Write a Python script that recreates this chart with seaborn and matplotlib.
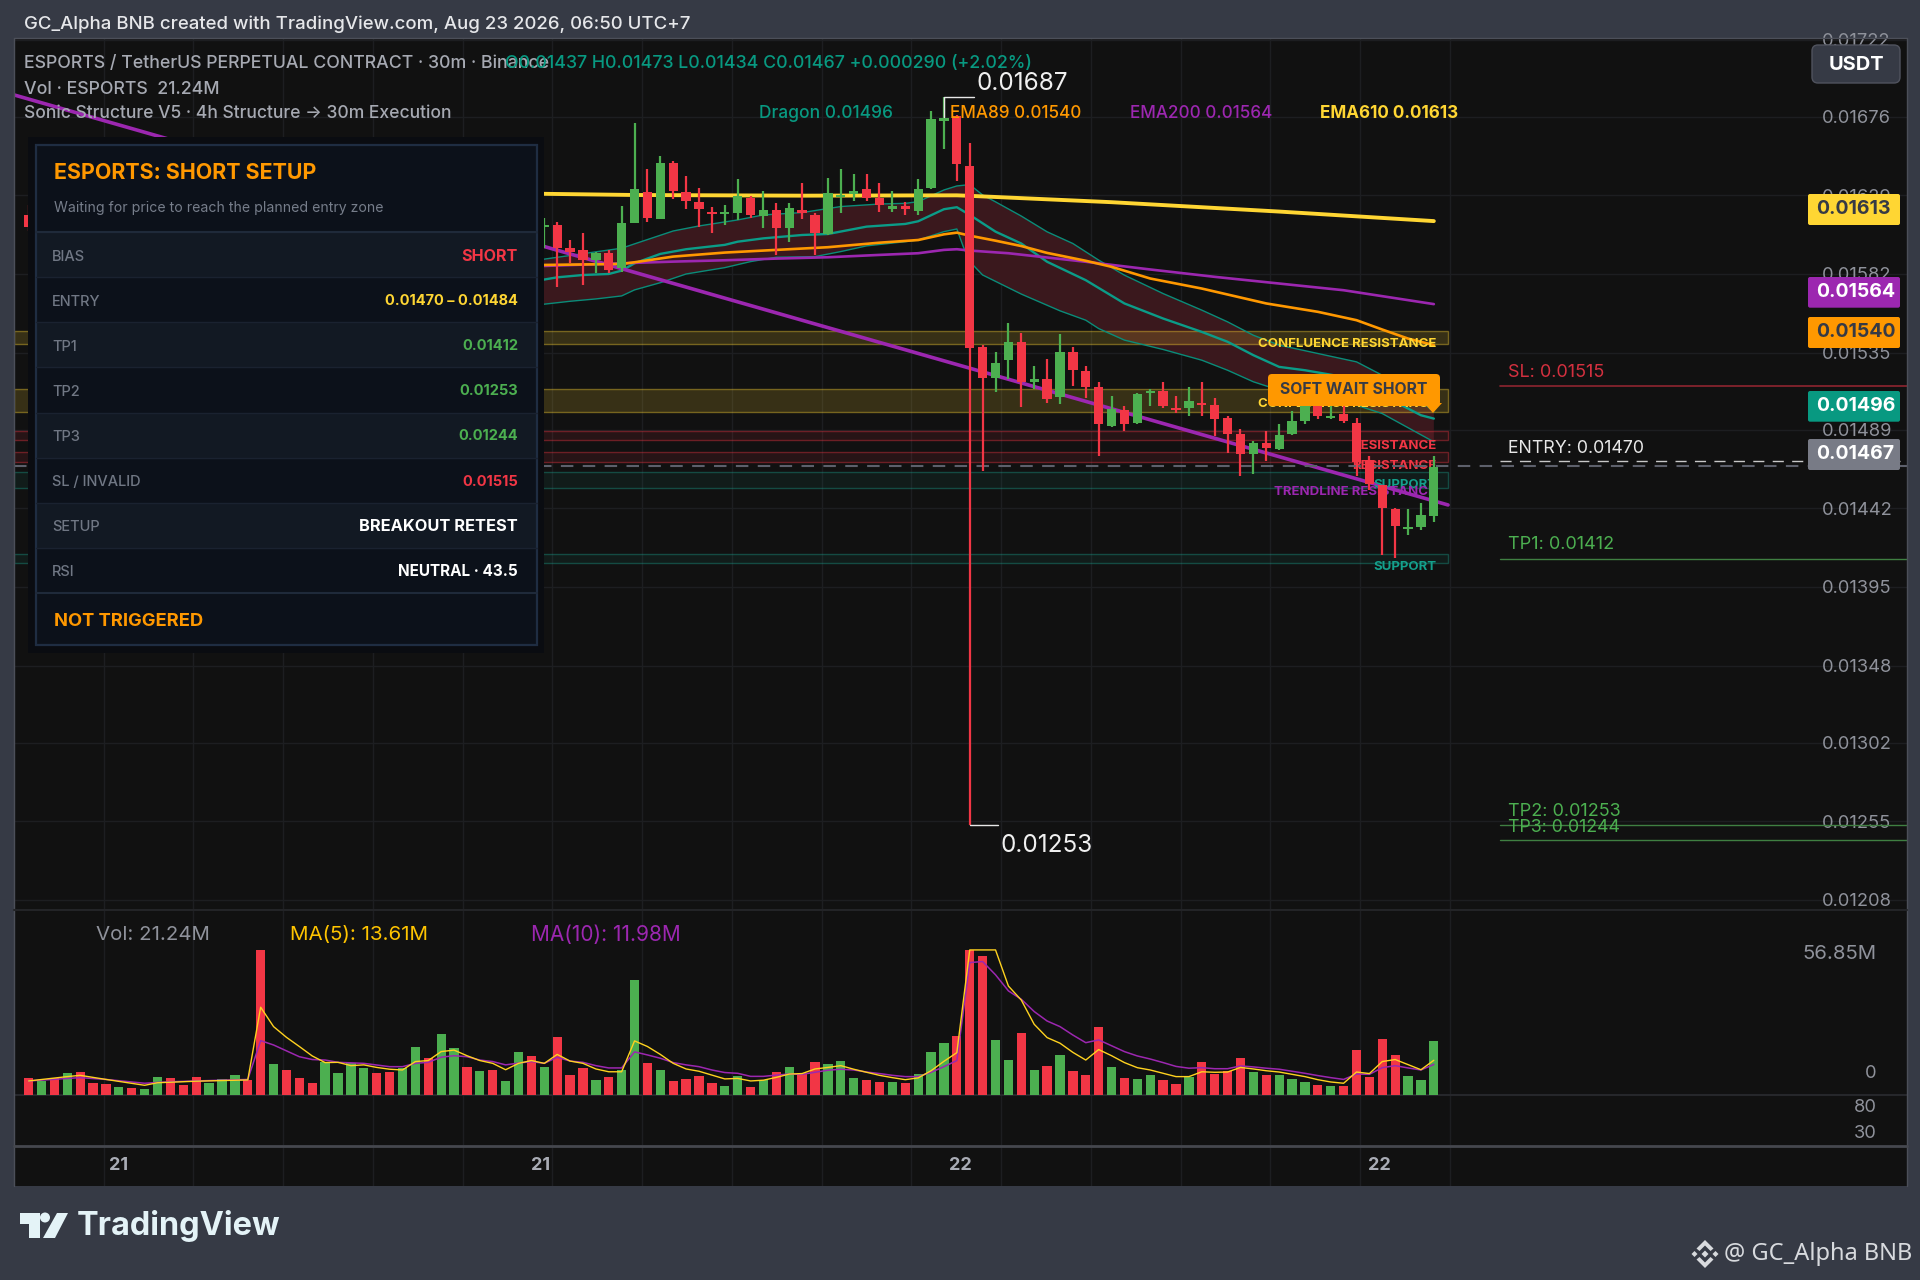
import numpy as np
import pandas as pd
import seaborn as sns
import matplotlib.pyplot as plt
from matplotlib.colors import to_rgba
from matplotlib.patches import Rectangle, FancyBboxPatch, Polygon, Circle

# ---- price data, in millionths of USDT (0.01467 -> 14670) ----
candle_idx = [0] + list(range(40, 110))
opens = [16173,
    16099, 16113, 15974, 15964, 15904, 15944, 15854, 16127, 16312, 16147,
    16485, 16312, 16252, 16193, 16179, 16187, 16276, 16167, 16203, 16097,
    16203, 16173, 16057, 16278, 16296, 16326, 16276, 16207, 16227, 16197,
    16332, 16736, 16764, 16466, 15381, 15201, 15305, 15411, 15176, 15190,
    15086, 15351, 15241, 15142, 14911, 15010, 14927, 15106, 15122, 15022,
    15022, 15050, 15040, 14962, 14863, 14743, 14811, 14773, 14863, 14942,
    15046, 14958, 14982, 14931, 14711, 14558, 14413, 14295, 14309, 14373]
highs = [16232,
    16153, 16133, 16023, 16063, 15954, 15964, 16227, 16725, 16446, 16525,
    16495, 16406, 16332, 16223, 16233, 16386, 16286, 16316, 16242, 16242,
    16362, 16183, 16392, 16446, 16416, 16416, 16362, 16316, 16252, 16386,
    16796, 16880, 16770, 16601, 15395, 15351, 15530, 15470, 15271, 15311,
    15460, 15381, 15271, 15172, 15090, 15030, 15110, 15132, 15172, 15090,
    15142, 15172, 15080, 14970, 14891, 14823, 14881, 14923, 15002, 15086,
    15066, 15046, 15046, 14962, 14731, 14562, 14419, 14413, 14452, 14731]
lows = [16077,
    15974, 15744, 15884, 15754, 15824, 15824, 15834, 16127, 16133, 16147,
    16266, 16207, 16103, 16067, 16113, 16143, 16153, 16093, 15934, 16013,
    16147, 15934, 16053, 16187, 16256, 16256, 16193, 16193, 16173, 16173,
    16326, 16565, 16376, 12530, 14644, 15116, 15191, 15026, 15132, 15052,
    15042, 15152, 15082, 14733, 14903, 14883, 14923, 15032, 15022, 14990,
    14972, 14972, 14853, 14753, 14614, 14624, 14701, 14771, 14861, 14923,
    14952, 14954, 14931, 14612, 14528, 14140, 14122, 14259, 14289, 14339]
closes = [16101,
    16113, 15974, 15954, 15904, 15944, 15844, 16123, 16326, 16153, 16485,
    16316, 16256, 16207, 16179, 16193, 16286, 16173, 16203, 16097, 16213,
    16183, 16063, 16302, 16292, 16316, 16276, 16233, 16227, 16207, 16326,
    16744, 16750, 16476, 15376, 15201, 15291, 15411, 15176, 15190, 15072,
    15351, 15245, 15142, 14923, 15012, 14923, 15102, 15122, 15030, 15006,
    15060, 15036, 14952, 14863, 14743, 14811, 14783, 14861, 14942, 15046,
    14972, 14970, 14942, 14697, 14564, 14423, 14313, 14309, 14379, 14668]

# EMA lines: (candle index, price)
ema610_x = [39, 47, 60, 72, 73, 84, 97, 109]
ema610_y = [16300, 16292, 16288, 16290, 16287, 16249, 16193, 16136]
ema89_x = [40, 46, 47, 50, 54, 58, 62, 66, 69, 71, 72, 73, 75, 77, 79, 82, 84, 87, 91, 96, 100, 103, 105, 107, 109]
ema89_y = [15874, 15880, 15890, 15924, 15948, 15964, 15980, 16007, 16023, 16057, 16067, 16049, 16019, 15987,
           15946, 15899, 15863, 15793, 15733, 15644, 15594, 15544, 15488, 15434, 15395]
ema200_x = [40, 46, 50, 54, 58, 62, 66, 69, 71, 72, 73, 76, 78, 82, 87, 92, 97, 102, 109]
ema200_y = [15868, 15884, 15894, 15902, 15912, 15920, 15934, 15944, 15964, 15968, 15960, 15944, 15927,
            15893, 15847, 15803, 15763, 15723, 15640]

# Dragon band
upper_x = [39, 46, 47, 50, 52, 55, 57, 60, 63, 66, 68, 69, 71, 72, 73, 74, 75, 77, 79, 81, 83, 85, 88, 91, 93, 95, 97, 100, 103, 105, 107, 109]
upper_y = [15898, 15974, 16000, 16077, 16107, 16143, 16173, 16187, 16223, 16238, 16242, 16252, 16322, 16346, 16354,
           16292, 16251, 16166, 16072, 16002, 15903, 15813, 15703, 15604, 15534, 15454, 15395, 15345, 15295, 15215, 15126, 14996]
mid_x = [39, 41, 43, 45, 46, 47, 49, 51, 54, 55, 57, 60, 62, 65, 68, 69, 71, 72, 73, 75, 77, 79, 82, 85, 88, 91, 93, 95, 97, 99, 102, 105, 108, 109]
mid_y = [15774, 15800, 15814, 15820, 15840, 15884, 15940, 15968, 15994, 16013, 16033, 16053, 16059, 16103, 16119, 16135,
         16207, 16219, 16173, 16073, 16002, 15893, 15783, 15644, 15554, 15474, 15415, 15335, 15265, 15245, 15205, 15096, 14976, 14956]
lower_x = [39, 42, 44, 46, 47, 49, 51, 54, 56, 58, 61, 63, 65, 68, 69, 71, 72, 72.5, 73, 74, 77, 80, 82, 83, 85, 88, 91, 93, 95, 97, 100, 103, 105, 109]
lower_y = [15631, 15657, 15671, 15689, 15725, 15768, 15820, 15858, 15894, 15920, 15924, 15954, 15988, 16013, 16023, 16073,
           16089, 15983, 15894, 15814, 15700, 15600, 15544, 15494, 15425, 15369, 15305, 15245, 15176, 15126, 15076, 15036, 14986, 14817]

trend_x = [-1.13, 110.1]
trend_y = [16890, 14440]

# zones: low, high
conf_zones = [(15400, 15480), (14997, 15131)]
res_zones = [(14828, 14880), (14699, 14758)]
sup_zones = [(14539, 14639), (14094, 14146)]
zone_x = [-1.13, 110.1]

# ---- volume data, millions ----
volumes = [6.8, 5.5, 6.5, 8.8, 8.9, 4.7, 4.4, 3.3, 2.9, 2.4,
           6.9, 6.5, 3.9, 7.2, 4.8, 6.1, 7.7, 5.9, 56.85, 12.2,
           9.8, 6.5, 4.7, 12.8, 8.6, 12.4, 10.5, 8.5, 8.9, 10.5,
           18.8, 14.4, 23.8, 18.4, 11.0, 9.4, 9.9, 5.5, 16.7, 15.2,
           11.0, 22.7, 7.7, 10.5, 5.9, 6.9, 9.7, 45.1, 12.4, 9.7,
           5.4, 6.3, 7.3, 4.8, 3.4, 7.3, 3.1, 5.9, 8.9, 10.8,
           8.2, 12.8, 12.2, 13.3, 6.7, 5.9, 5.1, 5.2, 4.6, 8.2,
           16.7, 20.3, 23.3, 56.85, 54.6, 21.4, 13.9, 24.2, 9.8, 11.4,
           15.6, 9.5, 7.8, 26.5, 11.1, 6.7, 6.4, 7.8, 6.0, 4.4,
           6.9, 12.8, 8.4, 9.5, 14.6, 8.9, 8.0, 7.7, 6.3, 5.0,
           3.9, 3.4, 3.7, 17.6, 7.1, 22.0, 15.7, 7.3, 6.0, 21.24]
vol_dirs = list("RGRGRRRGRG" "GRRRGGGRRG" "RRRGGGGRRG" "GRGGRGRGGR" "GRRRGRGGRG"
                "RRRRGGRGRG" "RRGGGRRGRG" "GGRRRGGRGR" "GRRRGRGGRR" "GRRRRGRGGG" "RGRRRRRGGG")

ma5_x = [0, 3, 4, 6, 9, 10, 13] + list(range(17, 110))
ma5_y = [5.5, 7.2, 7.7, 6.1, 3.8, 4.8, 5.4, 5.9, 34.4, 26.8, 22.6, 19.0, 15.3, 12.7, 12.8, 11.5, 11.8, 10.8, 10.1, 9.8,
         13.1, 13.5, 17.0, 17.6, 15.4, 13.5, 12.4, 9.9, 12.4, 13.5, 12.4, 15.9, 13.3, 12.4, 10.2, 9.1, 9.1, 21.2, 19.0,
         15.9, 12.4, 10.2, 9.3, 7.8, 6.3, 6.5, 5.5, 5.8, 6.9, 8.2, 8.4, 10.2, 10.8, 11.5, 10.1, 8.9, 7.7, 6.8, 6.0, 6.7,
         9.5, 13.2, 16.6, 56.85, 56.85, 56.85, 42.7, 37.2, 27.7, 22.5, 20.3, 16.7, 13.7, 17.8, 15.4, 12.7, 10.7, 9.8, 8.5,
         7.2, 7.2, 9.1, 8.9, 9.0, 10.8, 10.2, 9.5, 9.0, 8.1, 7.2, 6.0, 5.1, 4.6, 9.0, 8.4, 13.1, 13.9, 11.9, 9.9, 13.61]
ma10_x = [0, 4, 6, 9, 11, 17, 18, 19, 21, 22, 23, 24, 26] + list(range(28, 110))
ma10_y = [5.5, 6.8, 6.1, 4.6, 5.2, 6.1, 21.3, 19.6, 15.0, 13.9, 13.7, 12.8, 12.4,
          11.1, 11.1, 12.4, 12.8, 14.8, 15.4, 15.0, 13.7, 13.1, 11.8, 12.5, 13.1, 12.4, 14.8, 13.3, 12.8, 11.5, 10.6, 10.6,
          16.9, 15.7, 14.4, 12.7, 11.8, 11.1, 9.8, 8.8, 8.5, 7.3, 7.3, 7.8, 8.2, 8.1, 8.9, 9.7, 10.1, 9.8, 9.0, 8.4, 7.7,
          7.2, 7.2, 8.9, 11.1, 13.5, 51.9, 52.3, 47.1, 40.8, 37.5, 32.7, 29.0, 26.8, 23.5, 20.5, 21.6, 19.3, 17.0, 15.3,
          14.1, 12.7, 11.2, 10.5, 10.7, 10.3, 10.3, 11.4, 11.0, 10.5, 10.1, 9.3, 8.5, 7.6, 6.8, 6.1, 8.2, 8.1, 10.7, 11.5,
          10.6, 9.8, 11.98]

# ---- axes labels and ticks ----
price_ticks = [0.01722, 0.01676, 0.01629, 0.01582, 0.01535, 0.01489, 0.01442, 0.01395, 0.01348, 0.01302, 0.01255, 0.01208]
grid_idx = [5.83 + 6.96 * k for k in range(16)]
day_ticks = [7.0, 39.7, 72.3, 104.8]
day_labels = ['21', '21', '22', '22']

panel_rows = ['BIAS', 'ENTRY', 'TP1', 'TP2', 'TP3', 'SL / INVALID', 'SETUP', 'RSI']
panel_values = ['SHORT', '0.01470 – 0.01484', '0.01412', '0.01253', '0.01244', '0.01515', 'BREAKOUT RETEST', 'NEUTRAL · 43.5']
panel_sizes = [11.6, 10.5, 10.5, 10.5, 10.5, 10.5, 11.8, 11.0]

RED = '#f23645'
GREEN = '#4caf50'
YELLOW = '#ffd633'
ORANGE = '#ff9800'
PURPLE = '#9c27b0'
TEAL = '#089981'
BG = '#111111'
FRAME = '#363a45'
GRIDC = '#1d1e21'
TICK = '#8f929b'
panel_colors = [RED, YELLOW, GREEN, GREEN, GREEN, RED, 'white', 'white']

sns.set_theme(style='dark', rc={'axes.facecolor': BG, 'figure.facecolor': FRAME})
plt.rcParams['font.family'] = ['Inter', 'DejaVu Sans']

W, H = 1920, 1280
fig = plt.figure(figsize=(W / 100, H / 100), dpi=100)


def pane(top, bottom):
    return fig.add_axes([14 / W, 1 - bottom / H, (1907 - 14) / W, (bottom - top) / H])


ax = pane(38, 910)
ax_vol = pane(910, 1145)
ax_time = pane(1145, 1186)
XLIM = (-1.133, 145.7)

to_price = lambda v: np.array(v) / 1e6

# Dragon band fill
ax.fill(upper_x + lower_x[::-1], to_price(upper_y + lower_y[::-1]), color='#3a181d', lw=0, zorder=1)

# zones
for zones, c, alpha in [(conf_zones, YELLOW, 0.16), (res_zones, RED, 0.10), (sup_zones, '#1aa38f', 0.08)]:
    for lo, hi in zones:
        ax.add_patch(Rectangle((zone_x[0], lo / 1e6), zone_x[1] - zone_x[0], (hi - lo) / 1e6,
                               fc=to_rgba(c, alpha), ec=to_rgba(c, 0.38), lw=1.0, zorder=2))

# trend and EMA lines
line_specs = [(upper_x, upper_y, '#0a8c79', 1.0), (mid_x, mid_y, '#0b9c88', 1.7), (lower_x, lower_y, '#0a8c79', 1.0),
              (trend_x, trend_y, PURPLE, 2.6), (ema200_x, ema200_y, PURPLE, 1.9),
              (ema89_x, ema89_y, ORANGE, 1.9), (ema610_x, ema610_y, YELLOW, 2.8)]
for xs, ys, c, lw in line_specs:
    sns.lineplot(x=xs, y=to_price(ys), color=c, linewidth=lw, estimator=None, errorbar=None,
                 legend=False, ax=ax, zorder=3)

# zone labels sit under the candles
zone_labels = [('CONFLUENCE RESISTANCE', 0.015402, YELLOW), ('CONFLUENCE RESISTANCE', 0.015044, YELLOW),
               ('RESISTANCE', 0.014794, RED), ('RESISTANCE', 0.014675, RED), ('SUPPORT', 0.014560, '#14a08c'),
               ('TRENDLINE RESISTANCE', 0.014519, PURPLE), ('SUPPORT', 0.014068, '#14a08c')]
for s, p, c in zone_labels:
    ax.text(109.2, p, s, color=c, fontsize=9.5, fontweight='bold', ha='right', va='center', zorder=4)

# candles
df = pd.DataFrame({'i': candle_idx, 'o': to_price(opens), 'h': to_price(highs), 'l': to_price(lows), 'c': to_price(closes)})
df['col'] = np.where(df['c'] >= df['o'], GREEN, RED)
ax.vlines(df['i'], df['l'], df['h'], colors=df['col'], lw=1.6, zorder=5)
ax.bar(df['i'], (df['c'] - df['o']).abs(), bottom=df[['o', 'c']].min(axis=1), width=0.72, color=df['col'], lw=0, zorder=6)

# current price and plan lines
ax.plot(XLIM, [0.01467, 0.01467], color='#5d606b', lw=1.5, dashes=(6, 4.5), zorder=4)
plan_x = [114.15, XLIM[1]]
ax.plot(plan_x, [0.01515] * 2, color='#8f2530', lw=1.2, zorder=4)
ax.plot(plan_x, [0.01470] * 2, color='#c8c8c8', lw=1.0, dashes=(8, 6), zorder=4)
for p in [0.01412, 0.01253, 0.01244]:
    ax.plot(plan_x, [p] * 2, color='#3f7f42', lw=1.0, zorder=4)

# high / low brackets
ax.plot([71, 71, 73.3], [0.01676, 0.01688, 0.01688], color='#e8e8e8', lw=1.0, zorder=7)
ax.plot([73, 75.2], [0.01253, 0.01253], color='#e8e8e8', lw=1.0, zorder=7)

ax.set_yticks(price_ticks, [f'{p:.5f}' for p in price_ticks])
ax.yaxis.tick_right()
ax.tick_params(axis='y', direction='in', length=0, pad=-61, labelsize=13.2, labelcolor=TICK)
ax.set_xticks(grid_idx, [''] * len(grid_idx))
ax.tick_params(axis='x', length=0)
ax.grid(True, color=GRIDC, lw=1.0)
ax.set_axisbelow(True)
ax.set(xlim=XLIM, ylim=(0.01202, 0.01723), xlabel='', ylabel='')

# volume pane
vol_df = pd.DataFrame({'i': np.arange(len(volumes)), 'v': volumes, 'd': vol_dirs})
sns.barplot(data=vol_df, x='i', y='v', hue='d', palette={'R': RED, 'G': GREEN}, native_scale=True, dodge=False,
            width=0.72, saturation=1, errorbar=None, legend=False, linewidth=0, edgecolor='none', ax=ax_vol, zorder=3)
sns.lineplot(x=ma10_x, y=ma10_y, color=PURPLE, linewidth=1.1, estimator=None, errorbar=None, legend=False, ax=ax_vol, zorder=4)
sns.lineplot(x=ma5_x, y=ma5_y, color='#ffd21f', linewidth=1.0, estimator=None, errorbar=None, legend=False, ax=ax_vol, zorder=5)
ax_vol.axhline(0, color='#26272b', lw=1.5, zorder=1)
ax_vol.set_xticks(grid_idx, [''] * len(grid_idx))
ax_vol.set_yticks([])
ax_vol.tick_params(axis='x', length=0)
ax_vol.grid(True, axis='x', color=GRIDC, lw=1.0)
ax_vol.set_axisbelow(True)
ax_vol.set(xlim=XLIM, ylim=(-19.6, 72.5), xlabel='', ylabel='')

# time strip
ax_time.vlines(grid_idx, 0, 1, color=GRIDC, lw=1.0)
ax_time.set_xticks(day_ticks, day_labels)
ax_time.set_yticks([])
ax_time.tick_params(axis='x', length=0, pad=-21, labelsize=13, labelcolor='#a9acb5')
for t in ax_time.get_xticklabels():
    t.set_fontweight('bold')
ax_time.set(xlim=XLIM, ylim=(0, 1))

for a in (ax, ax_vol, ax_time):
    for s in a.spines.values():
        s.set_visible(False)

# ---- overlay in pixel coordinates for panel, tags and captions ----
ov = fig.add_axes([0, 0, 1, 1], zorder=10)
ov.set_xlim(0, W)
ov.set_ylim(H, 0)
ov.axis('off')


def put(x, y, s, color, size, weight='normal', ha='left', va='center', **kw):
    return ov.text(x, y + 2, s, color=color, fontsize=size, fontweight=weight, ha=ha, va=va, **kw)


def box(x0, y0, x1, y1, fc, ec='none', lw=0):
    ov.add_patch(Rectangle((x0, y0), x1 - x0, y1 - y0, fc=fc, ec=ec, lw=lw))


# frame and dividers
ov.plot([14, 14, 1906.5, 1906.5], [1185.5, 38, 38, 1185.5], color='#4c4f59', lw=1.0)
ov.plot([14, 1907], [910, 910], color='#232427', lw=1.5)
ov.plot([14, 1907], [1145.5, 1145.5], color='#45474e', lw=2)

# header
put(24, 22.5, 'GC_Alpha BNB created with TradingView.com, Aug 23 2026, 06:50 UTC+7', '#e6e7ea', 13.4, 'medium')
put(24, 62, 'ESPORTS / TetherUS PERPETUAL CONTRACT · 30m · Binance', '#a6a9b2', 12.8, 'medium')
put(505, 62, 'O0.01437 H0.01473 L0.01434 C0.01467 +0.000290 (+2.02%)', TEAL, 12.8, 'medium')
put(24, 87, 'Vol · ESPORTS  21.24M', '#a6a9b2', 12.8, 'medium')
put(24, 112, 'Sonic Structure V5 · 4h Structure → 30m Execution', '#a6a9b2', 12.6, 'medium')
put(759, 112, 'Dragon 0.01496', TEAL, 12.5, 'medium')
put(950, 112, 'EMA89 0.01540', ORANGE, 12.3, 'medium')
put(1130, 112, 'EMA200 0.01564', PURPLE, 12.3, 'medium')
put(1320, 112, 'EMA610 0.01613', YELLOW, 12.3, 'bold')
put(976, 81, '0.01687', '#f0f0f0', 17.5)
put(1001, 844, '0.01253', '#f0f0f0', 17.5)

# status panel
box(28, 137, 544, 653, '#0a0c11')
box(35.5, 145, 536.5, 645, '#0c111a')
row_edges = [232.3, 277.4, 322.4, 367.4, 412.5, 457.5, 502.5, 547.6, 592.6]
for k, (label, value, c, fs) in enumerate(zip(panel_rows, panel_values, panel_colors, panel_sizes)):
    y0, y1 = row_edges[k], row_edges[k + 1]
    box(35.5, y0, 536.5, y1, '#121923' if k % 2 == 0 else '#0c111a')
    ov.plot([35.5, 536.5], [y0, y0], color='#1a2230', lw=1)
    put(52, (y0 + y1) / 2, label, '#707784', 10.5, 'medium')
    put(518, (y0 + y1) / 2 - 0.5, value, c, fs, 'bold', ha='right')
ov.plot([35.5, 536.5], [232.3, 232.3], color='#1f2a3a', lw=1.5)
ov.plot([35.5, 536.5], [592.6, 592.6], color='#1f2a3a', lw=1.5)
ov.add_patch(Rectangle((35.5, 145), 501, 500, fc='none', ec='#1f2d42', lw=1.6))
put(54, 171, 'ESPORTS: SHORT SETUP', ORANGE, 15.4, 'bold')
put(54, 206, 'Waiting for price to reach the planned entry zone', '#767d8a', 10.15)
put(54, 619.5, 'NOT TRIGGERED', ORANGE, 13.2, 'bold')

# soft wait label
ov.add_patch(Polygon([[1424, 403], [1442, 403], [1433, 413]], fc=ORANGE, ec='none'))
ov.add_patch(FancyBboxPatch((1271, 377), 166, 26, boxstyle='round,pad=3,rounding_size=4', fc=ORANGE, ec='none'))
put(1354, 387, 'SOFT WAIT SHORT', FRAME, 11.3, 'bold', ha='center')

# plan captions
put(1508, 370.5, 'SL: 0.01515', '#d4303f', 13)
put(1508, 446.5, 'ENTRY: 0.01470', '#e8e8e8', 12.8)
put(1508, 542.5, 'TP1: 0.01412', GREEN, 13)
put(1508, 809.5, 'TP2: 0.01253', GREEN, 13)
put(1508, 825.5, 'TP3: 0.01244', GREEN, 12.8)

# USDT button and last value tags
ov.add_patch(FancyBboxPatch((1815, 48), 82, 32, boxstyle='round,pad=3,rounding_size=6', fc=FRAME, ec='#50535e', lw=1))
put(1856, 63, 'USDT', 'white', 14.4, 'bold', ha='center')
tags = [(194, 225, YELLOW, FRAME, '0.01613'), (277, 307.7, PURPLE, 'white', '0.01564'), (317, 348, ORANGE, FRAME, '0.01540'),
        (391, 421.7, TEAL, 'white', '0.01496'), (439, 470, '#787b86', 'white', '0.01467')]
for y0, y1, fc, tc, s in tags:
    ov.add_patch(FancyBboxPatch((1809, y0 + 1), 90, y1 - y0 - 2, boxstyle='round,pad=1,rounding_size=2', fc=fc, ec='none'))
    put(1816.5, (y0 + y1) / 2 - 2.5, s, tc, 14, 'bold')

# volume captions
put(96, 933, 'Vol: 21.24M', '#8f929b', 14.7)
put(290, 933, 'MA(5): 13.61M', '#ffc400', 14.8)
put(531, 933, 'MA(10): 11.98M', PURPLE, 15)
put(1877, 952, '56.85M', TICK, 14.7, ha='right')
put(1877, 1071, '0', TICK, 13.2, ha='right')
put(1877, 1105, '80', TICK, 13.2, ha='right')
put(1877, 1132, '30', TICK, 13.2, ha='right')

# TradingView mark
mark = '#e4f3f7'
ov.add_patch(Polygon([[20, 1213], [40, 1213], [40, 1238], [29, 1238], [29, 1224], [20, 1224]], fc=mark, ec='none'))
ov.add_patch(Circle((45, 1217.5), 5, fc=mark, ec='none'))
ov.add_patch(Polygon([[57, 1213], [68, 1213], [55, 1238], [43, 1238]], fc=mark, ec='none'))
put(77, 1224, 'TradingView', mark, 23.4, 'bold')

# Binance style badge next to the author name
icon_c = '#d8dade'
cx, cy = 1705, 1254
for dx, dy, r in [(0, 0, 3.5), (-10.5, 0, 3), (10.5, 0, 3)]:
    ov.add_patch(Polygon([[cx + dx, cy - r], [cx + dx + r, cy], [cx + dx, cy + r], [cx + dx - r, cy]], fc=icon_c, ec='none'))
for sgn in (-1, 1):
    pts = [(0, 14), (8.5, 5.5), (5.5, 3), (0, 8.5), (-5.5, 3), (-8.5, 5.5)]
    ov.add_patch(Polygon([[cx + a, cy + sgn * b] for a, b in pts], fc=icon_c, ec='none'))
ov.text(1724, 1254, '@ GC_Alpha BNB', color='#d8dade', fontsize=17, family='Noto Sans', ha='left', va='center')

fig.savefig('out.png', dpi=100, facecolor=fig.get_facecolor())
